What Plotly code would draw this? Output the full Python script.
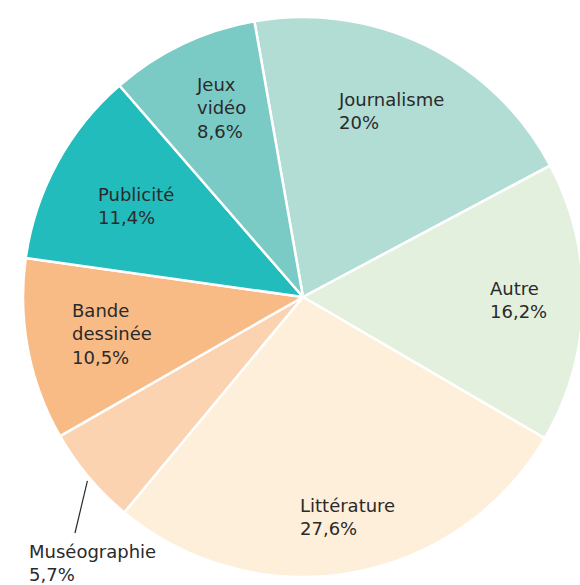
import math
import plotly.graph_objects as go

# ---- data ----
categories = ["Journalisme", "Autre", "Littérature", "Muséographie",
              "Bande dessinée", "Publicité", "Jeux vidéo"]
label_lines = ["Journalisme", "Autre", "Littérature", "Muséographie",
               "Bande<br>dessinée", "Publicité", "Jeux<br>vidéo"]
values = [20.0, 16.2, 27.6, 5.7, 10.5, 11.4, 8.6]
colors = ["#b1ddd4", "#e4f0de", "#fdefd9", "#fbd3b1",
          "#f8bb86", "#22bcbc", "#7acbc5"]

W, H = 590, 585          # page is clipped to 580 by the window (pie overflows right)
CX, CY, R = 303, 297, 280
ROT = -10
label_r = [0.735, 0.77, 0.80, None, 0.695, 0.68, 0.735]
label_da = [-0.7, -0.4, -1.4, 0, 0, 0, 2.0]
TXT = "#2a2a2a"
FONT = "DejaVu Sans"
FS = 18


def fmt(v):
    s = f"{v:.1f}".replace(".", ",")
    return s[:-2] if s.endswith(",0") else s


fig = go.Figure(go.Pie(
    labels=categories, values=values, sort=False, direction="clockwise",
    rotation=ROT, marker=dict(colors=colors, line=dict(color="white", width=2.5)),
    textinfo="none", hoverinfo="skip",
    domain=dict(x=[(CX - R) / W, (CX + R) / W],
                y=[1 - (CY + R) / H, 1 - (CY - R) / H]),
))

total = sum(values)
cum = 0.0
annotations = []
shapes = []
for i, v in enumerate(values):
    a0 = ROT + cum / total * 360
    cum += v
    a1 = ROT + cum / total * 360
    mid = math.radians((a0 + a1) / 2 + label_da[i])
    text = f"{label_lines[i]}<br>{fmt(v)}%"
    if label_r[i] is not None:
        px = CX + R * label_r[i] * math.sin(mid)
        py = CY - R * label_r[i] * math.cos(mid)
        annotations.append(dict(x=px / W, y=1 - py / H, xref="paper", yref="paper",
                                text=text, showarrow=False, align="left",
                                xanchor="center", yanchor="middle",
                                font=dict(family=FONT, size=FS, color=TXT)))
    else:
        sx = CX + R * 1.02 * math.sin(mid) + 3
        sy = CY - R * 1.02 * math.cos(mid)
        ex, ey = 75, 533
        shapes.append(dict(type="line", xref="paper", yref="paper",
                           x0=sx / W, y0=1 - sy / H, x1=ex / W, y1=1 - ey / H,
                           line=dict(color=TXT, width=1.2)))
        annotations.append(dict(x=27 / W, y=1 - 539 / H, xref="paper", yref="paper",
                                text=text, showarrow=False, align="left",
                                xanchor="left", yanchor="top",
                                font=dict(family=FONT, size=FS, color=TXT)))

fig.update_layout(width=W, height=H, margin=dict(l=0, r=0, t=0, b=0),
                  paper_bgcolor="white", plot_bgcolor="white", showlegend=False,
                  annotations=annotations, shapes=shapes)
fig.write_html("out.html", config={"displayModeBar": False},
               post_script="document.body.style.margin='0';document.body.style.overflow='hidden';")
